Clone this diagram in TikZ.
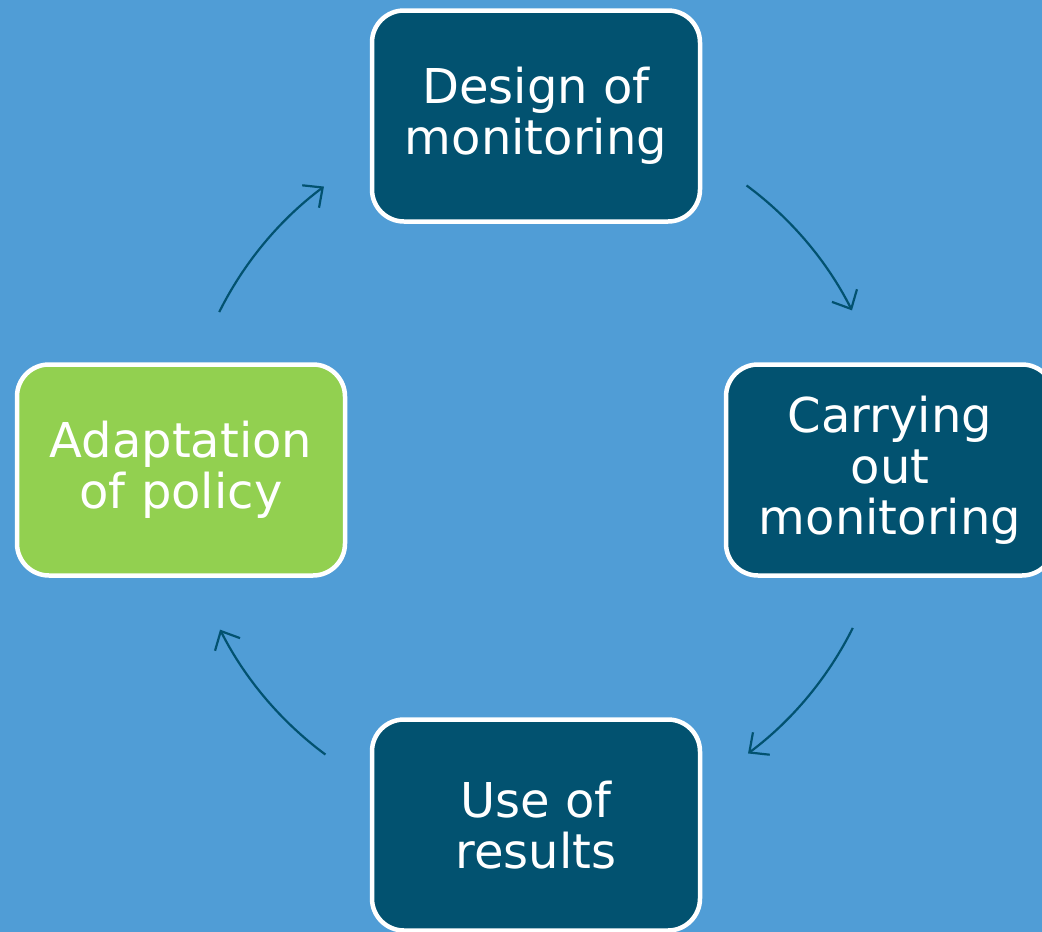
\documentclass[tikz,border=0pt]{standalone}
\usepackage{fontspec}
\setmainfont{DejaVu Sans}
\usetikzlibrary{arrows.meta}
\definecolor{bg}{RGB}{80,157,214}
\definecolor{dark}{RGB}{2,82,112}
\definecolor{lime}{RGB}{146,208,80}
\tikzset{
  stepbox/.style={draw=white, line width=4.5pt, rounded corners=32pt,
    minimum width=328pt, minimum height=211pt, align=center,
    text=white, font=\fontsize{48}{51}\selectfont, inner sep=0pt},
  cyc/.style={draw=dark, line width=2.2pt,
    -{Straight Barb[length=15pt, width=28pt, line width=2.2pt]}}
}
\begin{document}
\begin{tikzpicture}[x=1pt,y=-1pt]
\useasboundingbox (0,0) rectangle (1042,932);
\clip (0,0) rectangle (1042,932);
\fill[bg] (0,0) rectangle (1042,932);
\coordinate (c) at (536,470);
\node[stepbox, fill=dark] (design) at (536,116) {Design of\\monitoring};
\node[stepbox, fill=dark] (carry) at (890,470) {Carrying\\out\\monitoring};
\node[stepbox, fill=dark] (use) at (536,825) {Use of\\results};
\node[stepbox, fill=lime] (adapt) at (181,470) {Adaptation\\of policy};
\draw[cyc] ([shift={(-53.5:354)}]c) arc[start angle=-53.5, end angle=-26.8, radius=354];
\draw[cyc] ([shift={(26.5:354)}]c) arc[start angle=26.5, end angle=53.2, radius=354];
\draw[cyc] ([shift={(126.5:354)}]c) arc[start angle=126.5, end angle=153.2, radius=354];
\draw[cyc] ([shift={(206.5:354)}]c) arc[start angle=206.5, end angle=233.2, radius=354];
\end{tikzpicture}
\end{document}
